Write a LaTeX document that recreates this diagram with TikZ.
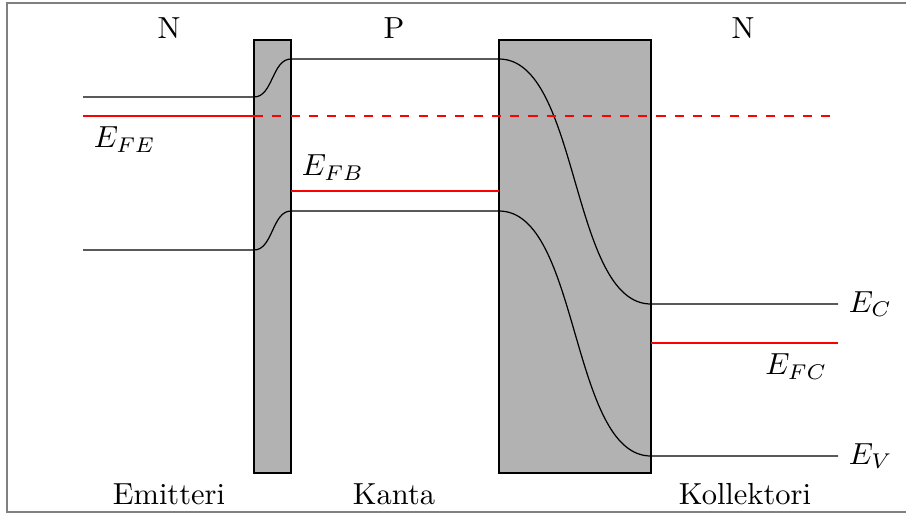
\documentclass[tikz,border=0pt]{standalone}
\usepackage{amsmath}
\usepackage{tikz}
\usetikzlibrary{positioning}

\begin{document}
\begin{tikzpicture}[
  x=0.328pt,y=-0.328pt,
  barrier/.style={draw,fill=gray!60},
  band/.style={black},
  fermi/.style={red},
  region/.style={inner sep=0pt}
]
  \useasboundingbox (0,0) rectangle (906,513);
  \draw[gray,line width=0.7pt] (7,3) rectangle (960,512);

  % barriers
  \draw[barrier] (254,40) rectangle (291,473);
  \draw[barrier] (499,40) rectangle (651,473);

  % band edges
  \coordinate (cE) at (83,97);   \coordinate (cEb) at (254,97);
  \coordinate (cB) at (291,59);  \coordinate (cBb) at (499,59);
  \coordinate (cC) at (651,304); \coordinate (cCe) at (838,304);
  \coordinate (vE) at (83,250);  \coordinate (vEb) at (254,250);
  \coordinate (vB) at (291,211); \coordinate (vBb) at (499,211);
  \coordinate (vC) at (651,456); \coordinate (vCe) at (838,456);

  \draw[band] (cE) -- (cEb) .. controls (273,97) and (272,59) .. (cB) -- (cBb)
    .. controls (580,59) and (570,304) .. (cC) -- (cCe);
  \draw[band] (vE) -- (vEb) .. controls (273,250) and (272,211) .. (vB) -- (vBb)
    .. controls (580,211) and (570,456) .. (vC) -- (vCe);

  % Fermi levels
  \coordinate (fE) at (83,116);  \coordinate (fEb) at (254,116);
  \coordinate (fEe) at (838,116);
  \coordinate (fB) at (291,191); \coordinate (fBb) at (499,191);
  \coordinate (fC) at (651,343); \coordinate (fCe) at (838,343);

  \draw[fermi] (fE) -- (fEb);
  \draw[fermi,dashed] (fEb) -- (fEe);
  \draw[fermi] (fB) -- (fBb);
  \draw[fermi] (fC) -- (fCe);

  % labels
  \node[below right] (lFE) at (fE) {$E_{FE}$};
  \node[above right] (lFB) at (fB) {$E_{FB}$};
  \node[below left] (lFC) at (fCe) {$E_{FC}$};
  \node[right] (lC) at (cCe) {$E_C$};
  \node[right] (lV) at (vCe) {$E_V$};

  \node[region] (nE) at (169,28) {N};
  \node[region] (pB) at (394,28) {P};
  \node[region] (nC) at (743,28) {N};
  \node[region] (emit) at (169,494) {Emitteri};
  \node[region] (base) at (394,494) {Kanta};
  \node[region] (coll) at (745,494) {Kollektori};
\end{tikzpicture}
\end{document}
